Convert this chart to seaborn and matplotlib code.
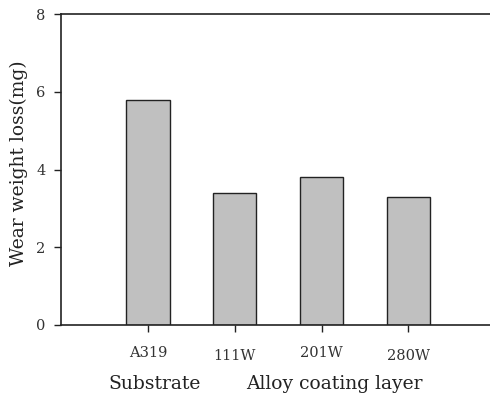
import matplotlib
matplotlib.use("Agg")
import matplotlib.pyplot as plt
import seaborn as sns
import pandas as pd

# Wear weight loss per sample
samples = ["A319", "111W", "201W", "280W"]
wear_loss = [5.8, 3.4, 3.8, 3.3]

sns.set_style("ticks")
plt.rcParams["font.family"] = ["DejaVu Serif"]

df = pd.DataFrame({"Sample": samples, "Loss": wear_loss})

fig = plt.figure(figsize=(4.9, 3.97), dpi=100)
ax = fig.add_axes([61 / 490, 72 / 397, 1 - 61 / 490, 311 / 397])

sns.barplot(data=df, x="Sample", y="Loss", color="#c0c0c0", saturation=1,
            width=0.5, edgecolor="#222222", linewidth=1.0, ax=ax)

ax.set_xlim(-1, 3.94)
ax.set_ylim(0, 8)
ax.set_yticks([0, 2, 4, 6, 8])
for s in ["left", "bottom", "top"]:
    ax.spines[s].set_color("#222222")
    ax.spines[s].set_linewidth(1.2)
ax.spines["right"].set_visible(False)

ax.tick_params(axis="both", direction="out", length=5, width=1, color="#222222",
               labelsize=10.5, labelcolor="#333333")
ax.tick_params(axis="y", pad=6)
for i, tk in enumerate(ax.xaxis.get_major_ticks()):
    tk.set_pad(10 if i % 2 == 0 else 12)

ax.set_ylabel("Wear weight loss(mg)", fontsize=13.5, color="#222222")
ax.yaxis.set_label_coords(-0.078, 0.52)
ax.set_xlabel("")

# group labels under the categories
fig.text(155 / 490, 1 - 384 / 397, "Substrate", fontsize=13.5, color="#222222",
         ha="center", va="center")
fig.text(334 / 490, 1 - 384 / 397, "Alloy coating layer", fontsize=13.5,
         color="#222222", ha="center", va="center")

fig.savefig("out.png", dpi=100)
